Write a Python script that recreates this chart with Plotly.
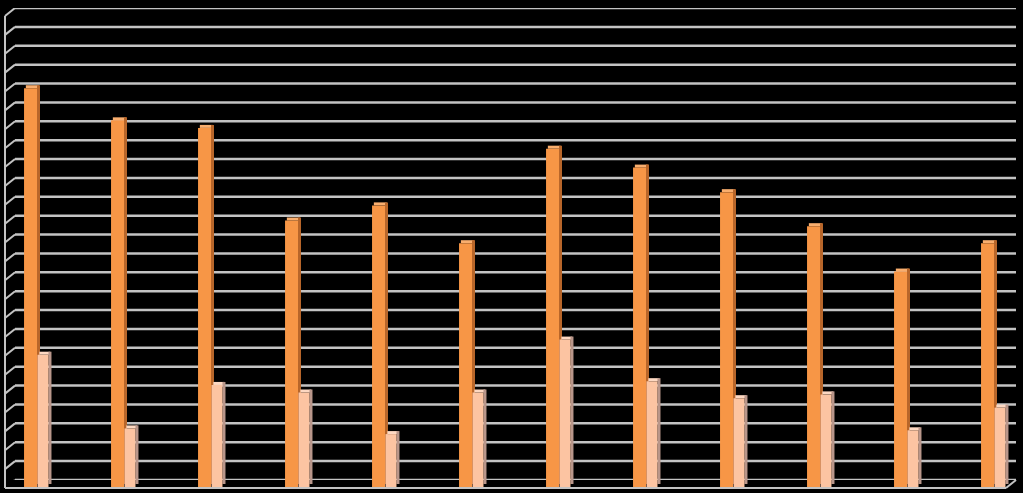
import plotly.graph_objects as go

# ---- data (in gridline units) ----
categories = list(range(12))
series_a = [21.1, 19.4, 19.0, 14.1, 14.9, 12.9, 17.9, 16.9, 15.6, 13.8, 11.4, 12.9]
series_b = [7.0, 3.1, 5.4, 5.0, 2.8, 5.0, 7.8, 5.6, 4.7, 4.9, 3.0, 4.2]
grid_ticks = list(range(0, 26))

W, H = 1023, 493
PX_PER_CAT = 87.0
PX_PER_UNIT = 18.9
DX = 3 / PX_PER_CAT      # depth offset, category units
DY = 3 / PX_PER_UNIT     # depth offset, value units

fig = go.Figure()

def bar3d(vals, left, width, front, side, top):
    # top face
    fig.add_trace(go.Bar(x=categories, y=[DY] * len(vals), base=vals,
                         offset=left + DX * 0.6, width=width, marker_color=top,
                         marker_line_width=0, xaxis="x2", yaxis="y2", hoverinfo="skip"))
    # side face
    fig.add_trace(go.Bar(x=categories, y=vals, base=[DY] * len(vals),
                         offset=left + width, width=DX, marker_color=side,
                         marker_line_width=0, xaxis="x2", yaxis="y2", hoverinfo="skip"))
    # front face
    fig.add_trace(go.Bar(x=categories, y=vals, offset=left, width=width,
                         marker_color=front, marker_line_width=0,
                         xaxis="x2", yaxis="y2", hoverinfo="skip"))

bar3d(series_a, -0.149, 0.149, "#F79646", "#B8662A", "#F9AE6E")
bar3d(series_b, 0.006, 0.126, "#FCC4A2", "#B9968A", "#FDD8C2")

# gridline (back wall) geometry
x_left_back, x_right_back = 15 / W, 1016 / W
y_floor_back, y_top = (H - 480) / H, (H - 8) / H
y_floor_front = (H - 488) / H
x_left_front, x_right_front = 5 / W, 1006 / W

GRID = "#C3C3C3"
grid_shapes = []
for v in grid_ticks:
    # back wall gridline
    grid_shapes.append(dict(type="line", xref="paper", yref="y",
                            x0=x_left_back, x1=x_right_back, y0=v, y1=v,
                            line=dict(color=GRID, width=2.5), layer="below"))
    # left wall slant
    grid_shapes.append(dict(type="line", xref="paper", yref="y",
                            x0=x_left_front, x1=x_left_back, y0=v - 8 / 18.88, y1=v,
                            line=dict(color=GRID, width=2), layer="below"))
# left front vertical edge
grid_shapes.append(dict(type="line", xref="paper", yref="paper",
                        x0=x_left_front, x1=x_left_front,
                        y0=y_floor_front, y1=(H - 16) / H,
                        line=dict(color=GRID, width=2), layer="below"))
# floor front edge and right edge
grid_shapes.append(dict(type="line", xref="paper", yref="paper",
                        x0=x_left_front, x1=x_right_front,
                        y0=y_floor_front, y1=y_floor_front,
                        line=dict(color=GRID, width=2), layer="below"))
grid_shapes.append(dict(type="line", xref="paper", yref="paper",
                        x0=x_right_front, x1=x_right_back,
                        y0=y_floor_front, y1=y_floor_back,
                        line=dict(color=GRID, width=2), layer="below"))

fig.update_layout(
    width=W, height=H,
    margin=dict(l=0, r=0, t=0, b=0),
    paper_bgcolor="#000000",
    plot_bgcolor="rgba(0,0,0,0)",
    barmode="overlay",
    showlegend=False,
    shapes=grid_shapes,
    xaxis=dict(domain=[x_left_back, x_right_back], range=[0, 1],
               showgrid=False, zeroline=False, showticklabels=False, visible=False),
    yaxis=dict(domain=[y_floor_back, y_top], range=[0, 25],
               showgrid=False, zeroline=False, showticklabels=False, ticks="",
               visible=False),
    xaxis2=dict(domain=[0, 1], anchor="y2",
                range=[-37 / PX_PER_CAT, -37 / PX_PER_CAT + W / PX_PER_CAT],
                showgrid=False, zeroline=False, showticklabels=False, visible=False),
    yaxis2=dict(domain=[(H - 487) / H, y_top], anchor="x2",
                range=[0, (487 - 8) / PX_PER_UNIT],
                showgrid=False, zeroline=False, showticklabels=False, visible=False),
)

fig.write_html("out.html",
               config={"displayModeBar": False},
               post_script="document.body.style.margin='0';document.body.style.padding='0';"
                           "document.body.style.background='#000';")
